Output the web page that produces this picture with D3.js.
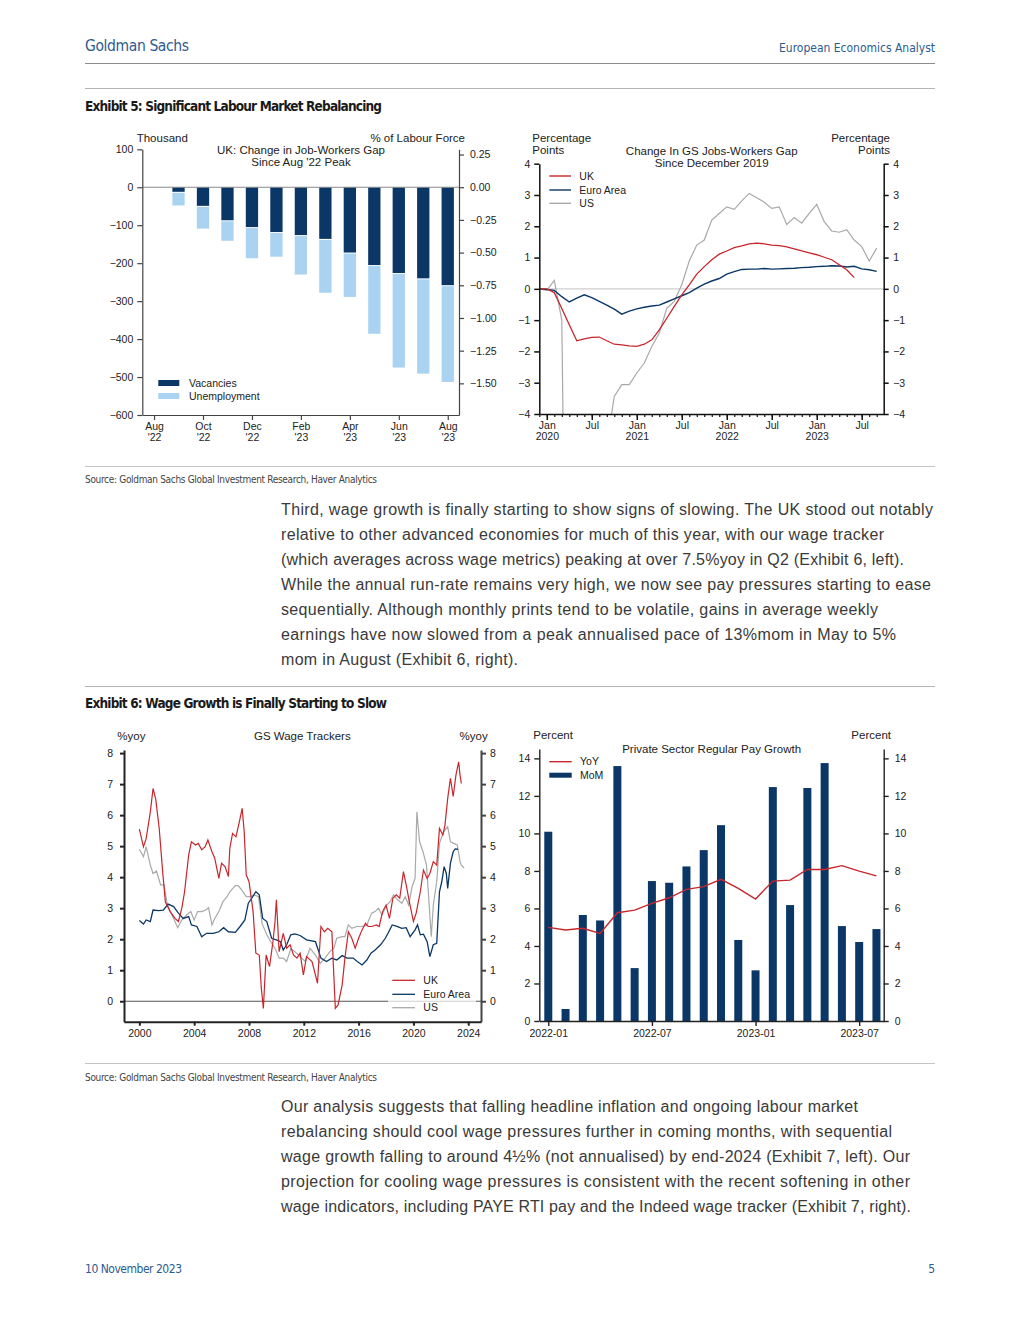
<!DOCTYPE html>
<html>
<head>
<meta charset="utf-8">
<script src="https://cdn.jsdelivr.net/npm/d3@7"></script>
<style>
  body { margin: 0; background: #fff; }
  svg { display: block; }
</style>
</head>
<body>
<div id="page"></div>
<script>
// ---------- data ----------

// Exhibit 5 left: change since Aug '22 peak, thousand (Aug '22 .. Aug '23)
var gapMonths = ["Aug '22","Sep '22","Oct '22","Nov '22","Dec '22","Jan '23","Feb '23","Mar '23","Apr '23","May '23","Jun '23","Jul '23","Aug '23"];
var vacancies = [0, -12, -49, -87, -105, -118, -126, -136, -172, -205, -226, -240, -258];
var unemployment = [0, -36, -60, -54, -82, -65, -104, -142, -117, -181, -249, -251, -255];
var gapTickLabels = [["Aug","'22"],["Oct","'22"],["Dec","'22"],["Feb","'23"],["Apr","'23"],["Jun","'23"],["Aug","'23"]];

// Exhibit 5 right: jobs-workers gap, pp change since Dec 2019, monthly from Dec 2019
var ukGap = [0, 0, -0.12, -0.63, -1.15, -1.66, -1.6, -1.55, -1.54, -1.66, -1.77, -1.79, -1.82,
  -1.84, -1.77, -1.63, -1.31, -0.94, -0.56, -0.19, 0.13, 0.47, 0.71, 0.93, 1.11,
  1.21, 1.32, 1.37, 1.44, 1.46, 1.44, 1.40, 1.38, 1.34, 1.28, 1.21, 1.15,
  1.09, 1.01, 0.93, 0.77, 0.61, 0.36];
var euGap = [0, -0.02, -0.05, -0.25, -0.42, -0.3, -0.19, -0.28, -0.4, -0.52, -0.65, -0.81, -0.71,
  -0.64, -0.59, -0.55, -0.52, -0.42, -0.32, -0.22, -0.12, 0.02, 0.15, 0.25, 0.33,
  0.47, 0.55, 0.62, 0.63, 0.63, 0.65, 0.63, 0.64, 0.65, 0.66, 0.68, 0.69,
  0.71, 0.72, 0.74, 0.73, 0.70, 0.72, 0.64, 0.61, 0.56];
var usGap = [0, -0.05, 0.27, -1.0, -20, -16, -12, -9, -7, -5, -3.44, -3.06, -3.06,
  -2.69, -2.37, -1.84, -1.41, -0.62, -0.4, 0.13, 0.89, 1.4, 1.56, 2.2, 2.41,
  2.62, 2.54, 2.81, 3.05, 2.91, 2.77, 2.57, 2.62, 2.06, 2.28, 2.1, 2.41,
  2.7, 2.15, 1.85, 1.81, 1.89, 1.56, 1.35, 0.89, 1.30];
var gapDateTicks = [1, 7, 13, 19, 25, 31, 37, 43];
var gapDateLabels = [["Jan","2020"],["Jul"],["Jan","2021"],["Jul"],["Jan","2022"],["Jul"],["Jan","2023"],["Jul"]];

// Exhibit 6 left: GS wage trackers, %yoy  [year, value]
var ukWage = [[2000.0,5.55],[2000.3,4.98],[2000.5,5.25],[2000.8,6.1],[2001.0,6.86],[2001.2,6.5],[2001.45,5.57],[2001.7,4.18],[2001.9,3.2],[2002.25,2.89],[2002.6,2.67],[2002.85,2.57],[2003.1,3.0],[2003.3,3.53],[2003.6,4.72],[2003.8,5.14],[2004.1,5.04],[2004.3,5.09],[2004.55,4.88],[2004.8,4.98],[2005.0,5.2],[2005.3,4.82],[2005.5,4.61],[2005.8,3.96],[2006.0,4.45],[2006.25,4.34],[2006.5,4.02],[2006.6,4.93],[2006.8,5.41],[2007.05,5.3],[2007.3,5.79],[2007.5,6.22],[2007.65,5.47],[2007.8,4.07],[2008.0,3.86],[2008.3,2.89],[2008.5,1.55],[2008.75,1.49],[2008.9,0.42],[2009.05,-0.23],[2009.25,1.49],[2009.5,1.12],[2009.75,1.92],[2009.9,2.57],[2010.0,3.27],[2010.2,1.6],[2010.5,2.19],[2010.75,1.71],[2011.0,1.82],[2011.25,1.49],[2011.5,1.39],[2011.73,1.55],[2011.97,0.85],[2012.2,1.44],[2012.6,1.28],[2013.0,0.58],[2013.25,2.41],[2013.5,2.24],[2013.75,2.35],[2014.05,2.24],[2014.2,0.74],[2014.3,-0.23],[2014.5,-0.12],[2014.8,0.53],[2015.0,1.39],[2015.25,2.24],[2015.5,2.03],[2015.75,1.71],[2016.0,2.03],[2016.25,2.3],[2016.5,2.51],[2016.7,2.41],[2016.95,2.41],[2017.3,2.46],[2017.5,2.41],[2017.75,2.89],[2018.0,3.1],[2018.25,2.67],[2018.5,3.32],[2018.75,3.43],[2019.0,3.32],[2019.27,4.18],[2019.47,3.75],[2019.7,3.21],[2020.0,2.57],[2020.2,2.84],[2020.5,3.53],[2020.73,4.23],[2021.0,3.96],[2021.2,4.12],[2021.45,4.5],[2021.7,4.39],[2021.9,5.57],[2022.15,5.36],[2022.3,5.68],[2022.5,6.54],[2022.7,7.19],[2022.9,6.6],[2023.1,7.29],[2023.3,7.72],[2023.4,7.29],[2023.5,7.02]];
var euWage = [[2000.0,2.6],[2000.3,2.49],[2000.5,2.62],[2000.8,2.57],[2001.0,2.94],[2001.4,2.92],[2001.75,2.94],[2002.1,3.13],[2002.5,3.05],[2002.85,2.84],[2003.2,2.67],[2003.6,2.73],[2003.8,2.46],[2004.2,2.41],[2004.55,2.08],[2004.9,2.19],[2005.4,2.19],[2005.8,2.24],[2006.15,2.37],[2006.5,2.24],[2007.0,2.22],[2007.35,2.41],[2007.7,2.62],[2007.95,3.16],[2008.2,3.32],[2008.5,3.53],[2008.75,3.43],[2009.0,2.67],[2009.3,2.57],[2009.65,2.03],[2010.0,1.98],[2010.3,1.92],[2010.5,1.65],[2010.75,1.82],[2011.05,2.14],[2011.35,2.17],[2011.73,2.12],[2012.2,1.98],[2012.85,1.92],[2013.25,1.39],[2013.65,1.28],[2014.05,1.39],[2014.4,1.33],[2014.8,1.47],[2015.15,1.39],[2015.6,1.39],[2015.9,1.28],[2016.25,1.17],[2016.6,1.33],[2016.9,1.55],[2017.2,1.65],[2017.6,1.82],[2017.95,2.03],[2018.2,2.24],[2018.45,2.46],[2018.8,2.41],[2019.15,2.35],[2019.47,2.37],[2019.76,2.08],[2020.12,2.3],[2020.3,2.46],[2020.5,2.14],[2020.73,2.16],[2021.0,1.92],[2021.2,1.44],[2021.45,1.82],[2021.7,1.87],[2021.9,3.53],[2022.07,3.86],[2022.24,4.34],[2022.4,4.12],[2022.5,3.64],[2022.7,4.45],[2022.9,4.82],[2023.05,4.91],[2023.25,4.9]];
var usWage = [[2000.0,4.9],[2000.3,4.66],[2000.5,4.98],[2000.8,4.39],[2001.0,4.12],[2001.25,4.2],[2001.55,3.75],[2001.8,3.75],[2002.0,3.21],[2002.25,2.89],[2002.5,2.67],[2002.8,2.37],[2003.1,2.62],[2003.45,2.78],[2003.75,2.89],[2004.0,2.62],[2004.25,2.89],[2004.55,2.89],[2004.85,2.94],[2005.05,3.02],[2005.3,2.46],[2005.5,2.67],[2005.8,2.89],[2006.1,3.21],[2006.4,3.37],[2006.6,3.53],[2007.0,3.73],[2007.2,3.73],[2007.47,3.59],[2007.8,3.37],[2008.1,3.37],[2008.35,3.43],[2008.7,3.37],[2008.95,2.51],[2009.3,2.14],[2009.65,1.87],[2009.9,1.71],[2010.2,1.39],[2010.5,1.39],[2010.75,1.28],[2011.05,1.69],[2011.35,1.6],[2011.73,1.44],[2012.1,1.28],[2012.45,1.71],[2012.85,1.49],[2013.2,1.22],[2013.55,1.39],[2013.9,1.6],[2014.2,1.71],[2014.4,2.03],[2014.8,2.08],[2015.0,2.08],[2015.25,2.46],[2015.5,2.35],[2015.85,2.41],[2016.25,2.41],[2016.6,2.46],[2016.95,2.84],[2017.2,2.89],[2017.45,3.0],[2017.7,2.78],[2018.05,3.1],[2018.3,3.21],[2018.55,3.43],[2018.85,3.27],[2019.15,3.16],[2019.4,3.37],[2019.65,3.1],[2019.9,3.69],[2020.12,3.96],[2020.25,6.11],[2020.45,5.14],[2020.7,4.82],[2020.95,4.39],[2021.1,3.43],[2021.3,2.08],[2021.45,3.1],[2021.7,3.86],[2021.9,5.09],[2022.15,5.41],[2022.3,5.52],[2022.5,5.63],[2022.7,5.14],[2022.95,5.09],[2023.2,5.04],[2023.4,4.5],[2023.5,4.39],[2023.7,4.29]];
var wageYearTicks = [2000, 2004, 2008, 2012, 2016, 2020, 2024];

// Exhibit 6 right: private sector regular pay growth, percent
var payMonths = ["2022-01","2022-02","2022-03","2022-04","2022-05","2022-06","2022-07","2022-08","2022-09","2022-10","2022-11","2022-12","2023-01","2023-02","2023-03","2023-04","2023-05","2023-06","2023-07","2023-08"];
var payMoM = [10.09, 0.64, 5.65, 5.36, 13.59, 2.82, 7.46, 7.37, 8.24, 9.11, 10.44, 4.32, 2.7, 12.47, 6.18, 12.42, 13.75, 5.06, 4.21, 4.9];
var payYoY = [4.99, 4.85, 4.94, 4.67, 5.77, 5.91, 6.27, 6.57, 7.02, 7.16, 7.55, 7.07, 6.5, 7.46, 7.51, 8.08, 8.08, 8.28, 7.99, 7.74];
var payTickIdx = [0, 6, 12, 18];

// body copy, line by line, with the measured width of each line
var block1 = [
  ["Third, wage growth is finally starting to show signs of slowing. The UK stood out notably", 652],
  ["relative to other advanced economies for much of this year, with our wage tracker", 603],
  ["(which averages across wage metrics) peaking at over 7.5%yoy in Q2 (Exhibit 6, left).", 623],
  ["While the annual run-rate remains very high, we now see pay pressures starting to ease", 650],
  ["sequentially. Although monthly prints tend to be volatile, gains in average weekly", 597],
  ["earnings have now slowed from a peak annualised pace of 13%mom in May to 5%", 615],
  ["mom in August (Exhibit 6, right).", 237]
];
var block2 = [
  ["Our analysis suggests that falling headline inflation and ongoing labour market", 577],
  ["rebalancing should cool wage pressures further in coming months, with sequential", 611],
  ["wage growth falling to around 4½% (not annualised) by end-2024 (Exhibit 7, left). Our", 629],
  ["projection for cooling wage pressures is consistent with the recent softening in other", 629],
  ["wage indicators, including PAYE RTI pay and the Indeed wage tracker (Exhibit 7, right).", 630]
];

// ---------- styles ----------
var FONT = "'Liberation Sans', Arial, sans-serif";
var NARROW = "'Liberation Sans Narrow', 'DejaVu Sans Condensed', 'Liberation Sans', sans-serif";
var NAVY = "#0b3766", LIGHT = "#aad3f1", RED = "#c8262d", GREY = "#a9a9a9", GSBLUE = "#2d5b8f";

var svg = d3.select("#page").append("svg")
  .attr("width", 1020)
  .attr("height", 1320);
var defs = svg.append("defs");

function label(g, x, y, str, anchor, size, fill, family, weight) {
  return g.append("text")
    .attr("x", x).attr("y", y)
    .attr("text-anchor", anchor || "start")
    .style("font-family", family || FONT)
    .style("font-size", (size || 11.5) + "px")
    .style("font-weight", weight || "normal")
    .attr("fill", fill || "#222")
    .text(str);
}

function rule(y, color) {
  svg.append("line")
    .attr("x1", 85).attr("x2", 935)
    .attr("y1", y).attr("y2", y)
    .attr("stroke", color).attr("stroke-width", 1);
}

// draws an axis and gives it the report's look
function drawAxis(axis, tx, ty, color, width) {
  var a = svg.append("g")
    .attr("transform", `translate(${tx},${ty})`)
    .call(axis);
  a.attr("font-family", FONT).attr("font-size", 10.5);
  a.select(".domain").attr("stroke", color).attr("stroke-width", width);
  a.selectAll(".tick line").attr("stroke", color).attr("stroke-width", width);
  a.selectAll(".tick text").attr("fill", "#222");
  return a;
}

// two line tick labels ("Jan" over "2020")
function stackLabels(a, labels) {
  a.selectAll(".tick text").each(function(d, i) {
    var t = d3.select(this).text(null).attr("dy", null);
    var parts = labels[i];
    t.append("tspan").attr("x", 0).attr("dy", "0.71em").text(parts[0]);
    if (parts[1]) t.append("tspan").attr("x", 0).attr("dy", "0.98em").text(parts[1]);
  });
}

// ---------- page furniture ----------
label(svg, 85, 51, "Goldman Sachs", "start", 15.5, GSBLUE, NARROW).attr("textLength", 104);
label(svg, 935, 52, "European Economics Analyst", "end", 12, GSBLUE, NARROW).attr("textLength", 156);
rule(63.5, "#8c8c8c");
rule(88.5, "#b4b4b4");
label(svg, 85, 111, "Exhibit 5: Significant Labour Market Rebalancing", "start", 13.5, "#1a1a1a", NARROW, "bold").attr("textLength", 297);
rule(466.5, "#c4c4c4");
label(svg, 85, 483, "Source: Goldman Sachs Global Investment Research, Haver Analytics", "start", 10, "#444", NARROW).attr("textLength", 292);
rule(686.5, "#b4b4b4");
label(svg, 85, 708, "Exhibit 6: Wage Growth is Finally Starting to Slow", "start", 13.5, "#1a1a1a", NARROW, "bold").attr("textLength", 302);
rule(1063.5, "#c4c4c4");
label(svg, 85, 1081, "Source: Goldman Sachs Global Investment Research, Haver Analytics", "start", 10, "#444", NARROW).attr("textLength", 292);
label(svg, 85, 1273, "10 November 2023", "start", 12, GSBLUE, NARROW).attr("textLength", 97);
label(svg, 935, 1273, "5", "end", 12, GSBLUE, NARROW);

block1.forEach(function(l, i) {
  label(svg, 281, 515 + i * 25, l[0], "start", 16, "#3a3a3a").attr("textLength", l[1]);
});
block2.forEach(function(l, i) {
  label(svg, 281, 1112 + i * 25, l[0], "start", 16, "#3a3a3a").attr("textLength", l[1]);
});

// ---------- Exhibit 5, left: bars ----------
var x5 = d3.scaleLinear().domain([-0.48, 12.46]).range([142.3, 459]);
var y5 = d3.scaleLinear().domain([-600, 100]).range([415, 149.3]);
var y5r = d3.scaleLinear().domain([-1.742, 0.29]).range([415, 149.3]);

var g5 = svg.append("g");
var barW5 = 12.3;
gapMonths.forEach(function(m, i) {
  if (vacancies[i] === 0 && unemployment[i] === 0) return;
  g5.append("rect")
    .attr("x", x5(i) - barW5 / 2).attr("width", barW5)
    .attr("y", y5(0)).attr("height", y5(vacancies[i]) - y5(0))
    .attr("fill", NAVY);
  g5.append("rect")
    .attr("x", x5(i) - barW5 / 2).attr("width", barW5)
    .attr("y", y5(vacancies[i]) + 1)
    .attr("height", y5(vacancies[i] + unemployment[i]) - y5(vacancies[i]) - 1)
    .attr("fill", LIGHT);
});
g5.append("line")
  .attr("x1", x5.range()[0]).attr("x2", x5.range()[1])
  .attr("y1", y5(0)).attr("y2", y5(0))
  .attr("stroke", "#8a8a8a").attr("stroke-width", 1.2);

drawAxis(d3.axisLeft(y5).tickValues(d3.range(100, -601, -100)).tickSize(5).tickSizeOuter(0).tickPadding(4),
  142.3, 0, "#444", 1.2);
drawAxis(d3.axisRight(y5r).tickValues([0.25, 0, -0.25, -0.5, -0.75, -1, -1.25, -1.5]).tickFormat(d3.format(".2f"))
  .tickSize(5).tickSizeOuter(0).tickPadding(6), 459, 0, "#444", 1.2);
var ax5 = drawAxis(d3.axisBottom(x5).tickValues(d3.range(0, 13, 2)).tickSize(5).tickSizeOuter(0).tickPadding(3),
  0, 415, "#444", 1.2);
stackLabels(ax5, gapTickLabels);

label(svg, 136.7, 142, "Thousand");
label(svg, 465, 142, "% of Labour Force", "end");
label(svg, 301, 154, "UK: Change in Job-Workers Gap", "middle");
label(svg, 301, 165.5, "Since Aug '22 Peak", "middle");
svg.append("rect").attr("x", 158.3).attr("y", 380).attr("width", 21).attr("height", 6).attr("fill", NAVY);
label(svg, 189, 386.5, "Vacancies", "start", 10.5);
svg.append("rect").attr("x", 158.3).attr("y", 393).attr("width", 21).attr("height", 6).attr("fill", LIGHT);
label(svg, 189, 399.5, "Unemployment", "start", 10.5);

// ---------- Exhibit 5, right: lines ----------
var x6 = d3.scaleLinear().domain([0, 45.93]).range([539.3, 883.7]);
var y6 = d3.scaleLinear().domain([-4, 4]).range([414, 163.7]);

defs.append("clipPath").attr("id", "clip6").append("rect")
  .attr("x", 539.3).attr("y", 163.7).attr("width", 344.4).attr("height", 250.3);

svg.append("line")
  .attr("x1", 539.3).attr("x2", 883.7)
  .attr("y1", y6(0)).attr("y2", y6(0))
  .attr("stroke", "#cfcfcf").attr("stroke-width", 1.2);

var line6 = d3.line().x(function(d, i) { return x6(i); }).y(function(d) { return y6(d); });
var g6 = svg.append("g").attr("clip-path", "url(#clip6)");
[[usGap, GREY, 1.2], [euGap, NAVY, 1.4], [ukGap, RED, 1.3]].forEach(function(s) {
  g6.append("path").datum(s[0])
    .attr("d", line6)
    .attr("fill", "none")
    .attr("stroke", s[1])
    .attr("stroke-width", s[2]);
});

drawAxis(d3.axisLeft(y6).tickValues(d3.range(-4, 5)).tickSize(5).tickSizeOuter(0).tickPadding(4),
  539.3, 0, "#111", 1.5);
drawAxis(d3.axisRight(y6).tickValues(d3.range(-4, 5)).tickSize(5).tickSizeOuter(0).tickPadding(4.5),
  883.7, 0, "#111", 1.5);
drawAxis(d3.axisBottom(x6).tickValues(d3.range(0, 46)).tickSize(3).tickSizeOuter(0).tickFormat(""),
  0, 414, "#111", 1.2);
var ax6 = drawAxis(d3.axisBottom(x6).tickValues(gapDateTicks).tickSize(6).tickSizeOuter(0).tickPadding(2),
  0, 414, "#111", 1.5);
stackLabels(ax6, gapDateLabels);

label(svg, 532.3, 142, "Percentage");
label(svg, 532.3, 154, "Points");
label(svg, 890, 142, "Percentage", "end");
label(svg, 890, 154, "Points", "end");
label(svg, 711.7, 155, "Change In GS Jobs-Workers Gap", "middle");
label(svg, 711.7, 166.7, "Since December 2019", "middle");
[["UK", RED, 176], ["Euro Area", NAVY, 190], ["US", GREY, 203.3]].forEach(function(l) {
  svg.append("line").attr("x1", 549.3).attr("x2", 571).attr("y1", l[2]).attr("y2", l[2])
    .attr("stroke", l[1]).attr("stroke-width", 1.4);
  label(svg, 579.3, l[2] + 3.7, l[0], "start", 10.5);
});

// ---------- Exhibit 6, left: wage trackers ----------
var x7 = d3.scaleLinear().domain([1998.88, 2024.93]).range([124, 481]);
var y7 = d3.scaleLinear().domain([-0.66, 8.1]).range([1021.7, 750]);

defs.append("clipPath").attr("id", "clip7").append("rect")
  .attr("x", 124).attr("y", 748).attr("width", 357).attr("height", 273.7);

svg.append("line")
  .attr("x1", 124).attr("x2", 481)
  .attr("y1", y7(0)).attr("y2", y7(0))
  .attr("stroke", "#555").attr("stroke-width", 1.1);

var line7 = d3.line().x(function(d) { return x7(d[0]); }).y(function(d) { return y7(d[1]); });
var g7 = svg.append("g").attr("clip-path", "url(#clip7)");
[[usWage, GREY, 1.2], [euWage, NAVY, 1.3], [ukWage, RED, 1.2]].forEach(function(s) {
  g7.append("path").datum(s[0])
    .attr("d", line7)
    .attr("fill", "none")
    .attr("stroke", s[1])
    .attr("stroke-width", s[2]);
});

drawAxis(d3.axisLeft(y7).tickValues(d3.range(0, 9)).tickSize(4).tickSizeOuter(0).tickPadding(7),
  124, 0, "#222", 2);
drawAxis(d3.axisRight(y7).tickValues(d3.range(0, 9)).tickSize(5).tickSizeOuter(0).tickPadding(4),
  481, 0, "#444", 2);
drawAxis(d3.axisBottom(x7).tickValues(wageYearTicks).tickFormat(d3.format("d")).tickSize(4).tickSizeOuter(0).tickPadding(4),
  0, 1021.7, "#222", 2);

label(svg, 117.3, 739.5, "%yoy");
label(svg, 487.7, 739.5, "%yoy", "end");
label(svg, 302.3, 739.5, "GS Wage Trackers", "middle");
svg.append("rect").attr("x", 388).attr("y", 972).attr("width", 88).attr("height", 42)
  .attr("fill", "#fff").attr("fill-opacity", 0.72);
[["UK", RED, 980.3], ["Euro Area", NAVY, 994.3], ["US", GREY, 1007.7]].forEach(function(l) {
  svg.append("line").attr("x1", 392.3).attr("x2", 415).attr("y1", l[2]).attr("y2", l[2])
    .attr("stroke", l[1]).attr("stroke-width", 1.3);
  label(svg, 423.3, l[2] + 3.7, l[0], "start", 10.5);
});

// ---------- Exhibit 6, right: pay growth ----------
var x8 = d3.scaleLinear().domain([-0.52, 19.42]).range([539.3, 883.7]);
var y8 = d3.scaleLinear().domain([0, 14.5]).range([1021, 749]);

var barW8 = 8;
svg.append("g").selectAll("rect")
  .data(payMoM)
  .enter()
  .append("rect")
  .attr("x", function(d, i) { return x8(i) - barW8 / 2; })
  .attr("width", barW8)
  .attr("y", function(d) { return y8(d); })
  .attr("height", function(d) { return y8(0) - y8(d); })
  .attr("fill", NAVY);

svg.append("path").datum(payYoY)
  .attr("d", d3.line().x(function(d, i) { return x8(i); }).y(function(d) { return y8(d); }))
  .attr("fill", "none")
  .attr("stroke", RED)
  .attr("stroke-width", 1.4);

drawAxis(d3.axisLeft(y8).tickValues(d3.range(0, 15, 2)).tickSize(5).tickSizeOuter(0).tickPadding(4),
  539.3, 0, "#222", 1.4);
drawAxis(d3.axisRight(y8).tickValues(d3.range(0, 15, 2)).tickSize(5).tickSizeOuter(0).tickPadding(6),
  883.7, 0, "#222", 1.4);
drawAxis(d3.axisBottom(x8).tickValues(payTickIdx).tickFormat(function(i) { return payMonths[i]; })
  .tickSize(5).tickSizeOuter(0).tickPadding(4), 0, 1021, "#222", 1.4);

label(svg, 533.3, 739, "Percent");
label(svg, 891, 739, "Percent", "end");
label(svg, 711.7, 752.5, "Private Sector Regular Pay Growth", "middle");
svg.append("line").attr("x1", 549.3).attr("x2", 571.7).attr("y1", 761.7).attr("y2", 761.7)
  .attr("stroke", RED).attr("stroke-width", 1.4);
label(svg, 580, 765.4, "YoY", "start", 10.5);
svg.append("rect").attr("x", 549.3).attr("y", 772.7).attr("width", 22.4).attr("height", 5).attr("fill", NAVY);
label(svg, 580, 779, "MoM", "start", 10.5);
</script>
</body>
</html>
